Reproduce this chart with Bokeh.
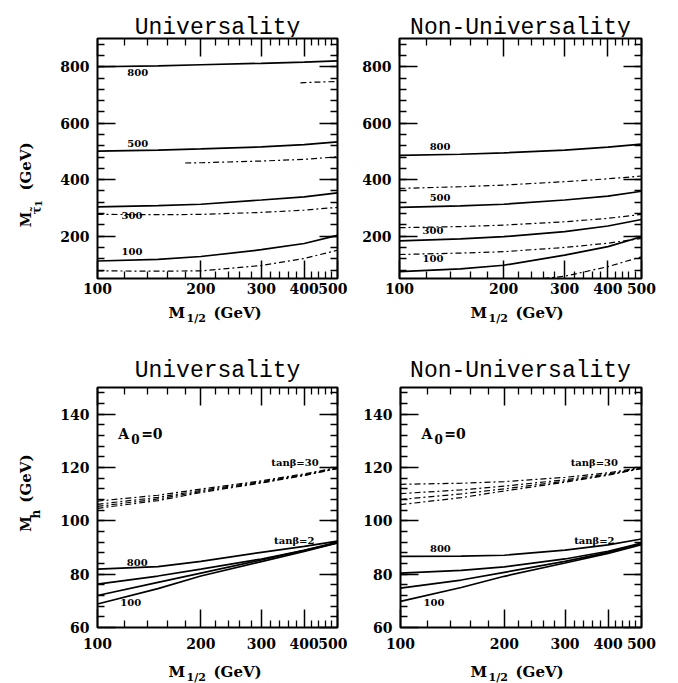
import numpy as np
from bokeh.plotting import figure
from bokeh.models import (Range1d, FixedTicker, LinearAxis, LogAxis, Label,
                          CustomJSTickFormatter, NumeralTickFormatter)
from bokeh.layouts import column, row
from bokeh.embed import file_html
from bokeh.resources import INLINE
from bokeh.core.properties import value

# ------------------------------------------------------------------ data
m_half = [100, 150, 200, 300, 400, 500]          # M_1/2 (GeV)

# Top-left: Universality, stau mass; solid = tan(beta)=2, dash-dot = tan(beta)=30
uni_stau_solid_800 = [800, 803, 807, 812, 816, 821]
uni_stau_solid_500 = [501, 505, 509, 516, 524, 534]
uni_stau_solid_300 = [304, 308, 313, 328, 339, 353]
uni_stau_solid_100 = [112, 118, 128, 152, 174, 203]
uni_stau_dd_800_x = [390, 400, 450, 500]
uni_stau_dd_800 = [743, 744, 746, 748]
uni_stau_dd_500_x = [180, 200, 300, 400, 500]
uni_stau_dd_500 = [459, 460, 466, 472, 481]
uni_stau_dd_300 = [277, 276, 277, 284, 292, 302]
uni_stau_dd_100 = [77, 76, 77, 96, 121, 150]

# Top-right: Non-Universality, stau mass
nonu_stau_solid_800 = [486, 490, 495, 505, 515, 526]
nonu_stau_solid_500 = [302, 307, 313, 328, 342, 359]
nonu_stau_solid_300 = [183, 190, 198, 216, 236, 259]
nonu_stau_solid_100 = [74, 84, 97, 133, 163, 198]
nonu_stau_dd_800 = [369, 375, 381, 393, 403, 413]
nonu_stau_dd_500 = [230, 234, 239, 251, 263, 277]
nonu_stau_dd_300 = [135, 140, 145, 160, 175, 192]
nonu_stau_dd_100_x = [260, 300, 400, 500]
nonu_stau_dd_100 = [50, 58, 92, 127]

# Bottom-left: Universality, light Higgs mass
uni_h_solid_800 = [81.9, 82.8, 84.8, 88.2, 90.4, 92.4]
uni_h_solid_500 = [76.3, 79.3, 81.9, 85.7, 88.9, 92.0]
uni_h_solid_300 = [72.0, 76.9, 80.4, 85.3, 88.9, 91.7]
uni_h_solid_100 = [68.8, 74.6, 79.3, 84.7, 88.5, 91.7]
uni_h_dd_800 = [107.4, 109.6, 111.9, 115.0, 117.6, 120.0]
uni_h_dd_500 = [106.2, 108.8, 111.4, 114.7, 117.3, 119.8]
uni_h_dd_300 = [105.4, 108.2, 111.0, 114.4, 117.1, 119.7]
uni_h_dd_100 = [104.7, 107.6, 110.6, 114.2, 117.0, 119.6]

# Bottom-right: Non-Universality, light Higgs mass
nonu_h_solid_800 = [86.7, 86.8, 87.1, 89.0, 91.0, 93.2]
nonu_h_solid_500 = [80.4, 81.4, 82.7, 85.7, 88.6, 91.7]
nonu_h_solid_300 = [74.8, 77.8, 80.7, 84.8, 88.2, 91.5]
nonu_h_solid_100 = [69.8, 75.0, 79.2, 84.2, 87.8, 91.1]
nonu_h_dd_800 = [113.7, 114.1, 114.7, 116.3, 118.0, 120.0]
nonu_h_dd_500 = [110.2, 111.6, 113.0, 115.4, 117.6, 119.8]
nonu_h_dd_300 = [108.0, 110.1, 112.0, 114.9, 117.3, 119.7]
nonu_h_dd_100 = [106.1, 108.7, 111.2, 114.5, 117.1, 119.6]

# ticks
x_major = [100, 200, 300, 400, 500]
x_minor = [120, 140, 160, 180, 220, 240, 260, 280, 320, 340, 360, 380,
           420, 440, 460, 480]
stau_major = [200, 400, 600, 800]
stau_minor = list(range(80, 900, 40))
h_major = [60, 80, 100, 120, 140]
h_minor = list(range(64, 150, 4))

titles = ["Universality", "Non-Universality"]

# ------------------------------------------------------------------ style
SERIF = "DejaVu Serif"
BLANK = CustomJSTickFormatter(code="return ''")
SOLID_W = 1.7
DD_W = 1.2
DD = "6 3 2 3"
R = np.pi / 2
PAGE_W = 672


def make_fig(width, height, left, right, top, bottom, yr, ymaj, ymin, xstand):
    p = figure(width=width, height=height, x_axis_type="log",
               x_range=Range1d(100, 500), y_range=Range1d(*yr),
               output_backend="svg", toolbar_location=None,
               min_border_left=left, min_border_right=right,
               min_border_top=top, min_border_bottom=bottom)
    p.grid.visible = False
    p.outline_line_color = "black"
    p.outline_line_width = 2
    p.outline_line_alpha = 1
    p.background_fill_color = "white"
    p.border_fill_color = "white"
    xt = FixedTicker(ticks=x_major, minor_ticks=x_minor)
    yt = FixedTicker(ticks=ymaj, minor_ticks=ymin)
    bottom_ax = p.below[0]
    left_ax = p.left[0]
    bottom_ax.ticker = xt
    left_ax.ticker = yt
    bottom_ax.formatter = NumeralTickFormatter(format="0")
    left_ax.formatter = NumeralTickFormatter(format="0")
    p.add_layout(LogAxis(ticker=xt, formatter=BLANK), "above")
    p.add_layout(LinearAxis(ticker=yt, formatter=BLANK), "right")
    for ax in p.axis:
        ax.axis_line_color = None
        ax.major_tick_in = 18
        ax.major_tick_out = 0
        ax.minor_tick_in = 7
        ax.minor_tick_out = 0
        ax.major_tick_line_width = 1.5
        ax.minor_tick_line_width = 1.3
        ax.major_tick_line_color = "black"
        ax.minor_tick_line_color = "black"
        ax.major_label_standoff = 0
        ax.major_label_text_font = SERIF
        ax.major_label_text_font_style = "bold"
        ax.major_label_text_font_size = "14px"
        ax.major_label_text_color = "black"
    bottom_ax.major_label_standoff = xstand
    left_ax.major_label_standoff = 8
    return p


def blank_fig(w, h):
    f = figure(width=w, height=h, x_range=Range1d(0, w), y_range=Range1d(0, h),
               output_backend="svg", toolbar_location=None, min_border=0,
               x_axis_location=None, y_axis_location=None)
    f.grid.visible = False
    f.outline_line_color = None
    f.background_fill_color = "white"
    f.border_fill_color = "white"
    return f


def put(f, s, x, y, size, angle=0.0, font=SERIF, style="bold",
        align="left", baseline="alphabetic"):
    f.text(x=[x], y=[y], text=[s], text_font=value(font),
           text_font_style=style, text_font_size=value(size),
           text_align=align, text_baseline=baseline, angle=angle,
           text_color="black")


def lab(p, s, x, y, size, align="center", baseline="middle", y_offset=0):
    p.add_layout(Label(x=x, y=y, text=s, text_font=SERIF,
                       text_font_style="bold", text_font_size=size,
                       text_align=align, text_baseline=baseline,
                       y_offset=y_offset, text_color="black"))


def solid(p, xs, ys):
    p.line(xs, ys, line_color="black", line_width=SOLID_W)


def dashdot(p, xs, ys):
    p.line(xs, ys, line_color="black", line_width=DD_W, line_dash=DD)


def title_row(h, base):
    f = blank_fig(PAGE_W, h)
    put(f, titles[0], 217, base, "23px", font="Liberation Mono",
        style="normal", align="center")
    put(f, titles[1], 520, base, "23px", font="Liberation Mono",
        style="normal", align="center")
    return f


def xlabel_row(h, base):
    f = blank_fig(PAGE_W, h)
    for x0 in (168, 470):
        put(f, "M", x0, base, "15px")
        put(f, "1/2", x0 + 18, base - 6, "11px")
        put(f, "(GeV)", x0 + 45, base, "15px")
    return f


def a0_label(p):
    lab(p, "A", 115, 132.5, "14px", align="left", baseline="alphabetic")
    lab(p, "0", 125.5, 132.5, "12px", align="left", baseline="alphabetic",
        y_offset=-5)
    lab(p, "=0", 134, 132.5, "14px", align="left", baseline="alphabetic")


# ------------------------------------------------------------------ top-left
m1 = make_fig(299, 262, 49, 10, 1, 21, (50, 900), stau_major, stau_minor, 4)
for ys in [uni_stau_solid_800, uni_stau_solid_500, uni_stau_solid_300, uni_stau_solid_100]:
    solid(m1, m_half, ys)
dashdot(m1, uni_stau_dd_800_x, uni_stau_dd_800)
dashdot(m1, uni_stau_dd_500_x, uni_stau_dd_500)
dashdot(m1, m_half, uni_stau_dd_300)
dashdot(m1, m_half, uni_stau_dd_100)
for s, x, y in [("800", 131, 779), ("500", 131, 528), ("300", 126, 274), ("100", 126, 144)]:
    lab(m1, s, x, y, "10px")

y1 = blank_fig(48, 262)
put(y1, "M", 25, 56, "14px", angle=R)
put(y1, "τ̃", 36, 70, "12px", angle=R)
put(y1, "1", 38, 78, "10px", angle=R)
put(y1, "(GeV)", 25, 96, "15px", angle=R)

# ------------------------------------------------------------------ top-right
m2 = make_fig(315, 262, 52, 21, 1, 21, (50, 900), stau_major, stau_minor, 4)
for ys in [nonu_stau_solid_800, nonu_stau_solid_500, nonu_stau_solid_300, nonu_stau_solid_100]:
    solid(m2, m_half, ys)
for ys in [nonu_stau_dd_800, nonu_stau_dd_500, nonu_stau_dd_300]:
    dashdot(m2, m_half, ys)
dashdot(m2, nonu_stau_dd_100_x, nonu_stau_dd_100)
for s, x, y in [("800", 131, 517), ("500", 131, 338), ("300", 125, 219), ("100", 125, 122)]:
    lab(m2, s, x, y, "10px")

# ------------------------------------------------------------------ bottom-left
m3 = make_fig(299, 271, 49, 10, 4, 27, (60, 150), h_major, h_minor, 10)
for ys in [uni_h_solid_800, uni_h_solid_500, uni_h_solid_300, uni_h_solid_100]:
    solid(m3, m_half, ys)
for ys in [uni_h_dd_800, uni_h_dd_500, uni_h_dd_300, uni_h_dd_100]:
    dashdot(m3, m_half, ys)
lab(m3, "800", 130.5, 84.5, "10px")
lab(m3, "100", 125, 69.4, "10px")
lab(m3, "tanβ=2", 374, 92.8, "10px")
lab(m3, "tanβ=30", 376, 121.8, "10px")
a0_label(m3)

y3 = blank_fig(48, 271)
put(y3, "M", 25, 108, "14px", angle=R)
put(y3, "h", 35, 123, "12px", angle=R)
put(y3, "(GeV)", 25, 141, "15px", angle=R)

# ------------------------------------------------------------------ bottom-right
m4 = make_fig(315, 271, 53, 21, 4, 27, (60, 150), h_major, h_minor, 10)
for ys in [nonu_h_solid_800, nonu_h_solid_500, nonu_h_solid_300, nonu_h_solid_100]:
    solid(m4, m_half, ys)
for ys in [nonu_h_dd_800, nonu_h_dd_500, nonu_h_dd_300, nonu_h_dd_100]:
    dashdot(m4, m_half, ys)
lab(m4, "800", 130.5, 89.5, "10px")
lab(m4, "100", 125, 69.4, "10px")
lab(m4, "tanβ=2", 365, 92.8, "10px")
lab(m4, "tanβ=30", 365, 121.8, "10px")
a0_label(m4)

layout = column(
    title_row(37, 10),
    row(y1, m1, m2),
    xlabel_row(31, 18),
    title_row(53, 13),
    row(y3, m3, m4),
    xlabel_row(29, 12),
)
open("out.html", "w").write(file_html(layout, INLINE))
